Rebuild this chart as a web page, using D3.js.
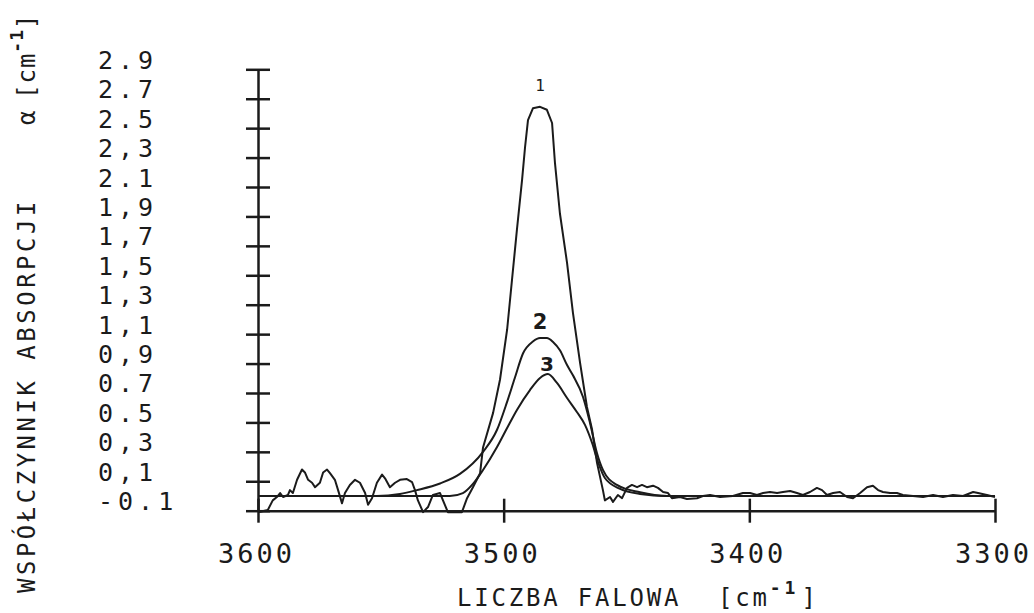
<!DOCTYPE html>
<html>
<head>
<meta charset="utf-8">
<script src="https://cdn.jsdelivr.net/npm/d3@7"></script>
<style>
  body { margin: 0; background: #fff; }
  svg text { font-family: "DejaVu Sans Mono", "Liberation Mono", monospace; fill: #1b1b1b; }
</style>
</head>
<body>
<svg id="chart" width="1034" height="613"></svg>
<script>
// axis ticks as printed on the plot (the plotter mixed "." and ",")
var xTicks = [3600, 3500, 3400, 3300];
var xTickLabels = ['3600', '3500', '3400', '3300'];
var yTicks = [-0.1, 0.1, 0.3, 0.5, 0.7, 0.9, 1.1, 1.3, 1.5, 1.7, 1.9, 2.1, 2.3, 2.5, 2.7, 2.9];
var yTickLabels = ['-0.1', '0,1', '0,3', '0.5', '0.7', '0,9', '1,1', '1,3', '1,5', '1,7', '1,9', '2.1', '2,3', '2.5', '2.7', '2.9'];

var peakLabels = ['1', '2', '3'];

// [wavenumber cm-1, absorption coefficient cm-1]
var curve1 = [[3600,-0.11],[3596,-0.095],[3594,-0.03],[3592.3,-0.007],[3591,0.02],[3589.8,-0.007],[3587.8,0.007],[3587,0.04],[3585.8,0.02],[3584.1,0.11],[3582.1,0.18],[3580.9,0.16],[3579.6,0.11],[3578,0.09],[3576.8,0.06],[3574.8,0.09],[3573.5,0.16],[3571.9,0.18],[3570.7,0.155],[3568.7,0.11],[3567.4,0.04],[3565.8,-0.05],[3564.6,0.02],[3562.6,0.075],[3560.5,0.11],[3558.5,0.09],[3556.4,0.02],[3555.2,-0.06],[3553.6,-0.015],[3551.6,0.09],[3549.5,0.145],[3548.3,0.12],[3546.3,0.06],[3544.2,0.09],[3542.2,0.11],[3539.4,0.115],[3537.3,0.095],[3536.1,0.04],[3534.9,-0.03],[3532.8,-0.11],[3530.8,-0.075],[3528.8,0.007],[3525.9,0.02],[3524.7,-0.03],[3522.7,-0.11],[3517,-0.11],[3514.9,-0.015],[3512.5,0.06],[3509.6,0.155],[3508.4,0.33],[3504.3,0.565],[3501.5,0.79],[3498.6,1.13],[3496.6,1.47],[3494.6,1.81],[3492.5,2.15],[3491.3,2.37],[3490.1,2.555],[3488.1,2.635],[3485.2,2.645],[3482.4,2.625],[3480.3,2.535],[3479.1,2.26],[3477.1,1.92],[3474.2,1.585],[3471.8,1.245],[3468.9,0.905],[3466.1,0.605],[3464,0.45],[3462,0.225],[3459.6,0.04],[3458.8,-0.03],[3456.7,-0.007],[3455.5,-0.04],[3453.5,0.007],[3451.8,-0.015],[3449.8,0.055],[3447.8,0.075],[3445.7,0.06],[3443.7,0.075],[3441.7,0.06],[3439.2,0.07],[3437.2,0.055],[3435.1,0.027],[3433.1,0.02],[3431.5,-0.015],[3428.2,-0.007],[3425.4,-0.02],[3421.3,-0.015],[3418.9,0],[3416,0.007],[3411.9,-0.007],[3406.7,0],[3402.6,0.02],[3399.7,0.02],[3396.9,0.007],[3394.4,0.02],[3391.6,0.027],[3388.7,0.02],[3386.3,0.027],[3383.4,0.034],[3380.6,0.02],[3378.2,0.007],[3375.3,0.027],[3372.5,0.055],[3370.4,0.04],[3368.4,0.007],[3365.9,0.02],[3363.1,0.027],[3360.2,-0.007],[3357.8,-0.015],[3354.9,0.02],[3352.1,0.06],[3349.7,0.07],[3347.6,0.04],[3345.6,0.027],[3342.7,0.02],[3339.9,0.02],[3337.5,0.007],[3333.4,0],[3329.3,-0.007],[3325.2,0.007],[3321.2,-0.007],[3317.1,0.007],[3313,0],[3308.9,0.027],[3306.9,0.02],[3303.3,0.007],[3300,-0.007]];

var curve2 = [[3600,0],[3551.6,0],[3542.2,0.014],[3535.3,0.04],[3525.9,0.085],[3517.8,0.15],[3508.4,0.3],[3502.7,0.45],[3498.6,0.64],[3495.5,0.8],[3492.1,0.97],[3488.1,1.05],[3485.2,1.074],[3482.4,1.074],[3479.9,1.047],[3477.1,0.99],[3474.2,0.89],[3471.8,0.82],[3467.7,0.673],[3464.9,0.5],[3462,0.29],[3459.6,0.177],[3453.9,0.075],[3444.5,0.025],[3433.5,0],[3300,0]];

var curve3 = [[3600,0],[3521.9,0],[3516.6,0.02],[3512.5,0.082],[3508.4,0.177],[3502.7,0.333],[3498.6,0.462],[3494.6,0.585],[3489.3,0.72],[3485.2,0.802],[3482,0.829],[3478.3,0.768],[3474.2,0.666],[3470.2,0.571],[3466.9,0.483],[3464,0.36],[3461.6,0.231],[3458.8,0.122],[3452.6,0.048],[3444.5,0.014],[3433.5,0],[3300,0]];

var ink = '#1b1b1b';
var svg = d3.select('#chart');

var x = d3.scaleLinear().domain([3600, 3300]).range([258, 995]);
var y = d3.scaleLinear().domain([-0.1, 2.9]).range([510.7, 69.3]);

// y axis, ticks crossing the line
var yAxis = d3.axisLeft(y)
  .tickValues(yTicks)
  .tickFormat(function(d, i) { return yTickLabels[i]; })
  .tickSize(12)
  .tickSizeOuter(0);

var gy = svg.append('g')
  .attr('transform', 'translate(' + x(3600) + ',0)')
  .attr('font-family', null).attr('font-size', null)
  .call(yAxis);
gy.select('.domain').attr('stroke', ink).attr('stroke-width', 2.5);
gy.selectAll('.tick line').attr('x1', -12).attr('x2', 12).attr('stroke', ink).attr('stroke-width', 2.5);
gy.selectAll('.tick text')
  .attr('x', 98 - x(3600))
  .attr('dy', -1)
  .attr('text-anchor', 'start')
  .attr('fill', ink)
  .style('font-size', '25px')
  .style('letter-spacing', '5px');

// x axis
var xAxis = d3.axisBottom(x)
  .tickValues(xTicks)
  .tickFormat(function(d, i) { return xTickLabels[i]; })
  .tickSize(12)
  .tickSizeOuter(0);

var gx = svg.append('g')
  .attr('transform', 'translate(0,' + y(-0.1) + ')')
  .attr('font-family', null).attr('font-size', null)
  .call(xAxis);
gx.select('.domain').attr('stroke', ink).attr('stroke-width', 2.5);
gx.selectAll('.tick line').attr('y1', -12).attr('y2', 12).attr('stroke', ink).attr('stroke-width', 2.5);
gx.selectAll('.tick text')
  .attr('y', 52)
  .attr('dy', 0)
  .attr('dx', -2)
  .attr('fill', ink)
  .style('font-size', '27px')
  .style('letter-spacing', '3px');

// spectra
var line = d3.line()
  .x(function(d) { return x(d[0]); })
  .y(function(d) { return y(d[1]); });
var smooth = d3.line()
  .x(function(d) { return x(d[0]); })
  .y(function(d) { return y(d[1]); })
  .curve(d3.curveMonotoneX);

var series = [curve1, curve2, curve3];
svg.append('path').datum(curve1).attr('d', line)
  .attr('fill', 'none').attr('stroke', ink).attr('stroke-width', 2).attr('stroke-linejoin', 'round');
svg.append('path').datum(curve2).attr('d', smooth)
  .attr('fill', 'none').attr('stroke', ink).attr('stroke-width', 2);
svg.append('path').datum(curve3).attr('d', smooth)
  .attr('fill', 'none').attr('stroke', ink).attr('stroke-width', 2);

// curve numbers above the peaks
var labelStyle = [
  {dx: 0, dy: -16, size: 16, weight: 'normal', family: '"DejaVu Sans Mono", monospace'},
  {dx: 0, dy: -9, size: 21, weight: 'bold', family: '"DejaVu Sans", sans-serif'},
  {dx: -1, dy: -3, size: 20, weight: 'bold', family: '"DejaVu Sans", sans-serif'}
];
series.forEach(function(s, i) {
  var peak = s.reduce(function(a, b) { return b[1] > a[1] ? b : a; });
  svg.append('text')
    .attr('x', x(peak[0]) + labelStyle[i].dx)
    .attr('y', y(peak[1]) + labelStyle[i].dy)
    .attr('text-anchor', 'middle')
    .style('font-family', labelStyle[i].family)
    .style('font-size', labelStyle[i].size + 'px')
    .style('font-weight', labelStyle[i].weight)
    .text(peakLabels[i]);
});

// axis titles
var xt = svg.append('text')
  .attr('x', 457).attr('y', 606)
  .style('font-size', '24px')
  .style('letter-spacing', '2.8px');
xt.append('tspan').text('LICZBA FALOWA');
xt.append('tspan').attr('x', 718).text('[cm');
xt.append('tspan').attr('dy', -12).style('font-size', '18px').style('font-weight', 'bold').style('letter-spacing', '4px').text('-1');
xt.append('tspan').attr('dy', 12).attr('dx', 2).text(']');

var yt = svg.append('text')
  .attr('transform', 'translate(35,593) rotate(-90)')
  .style('font-size', '24px')
  .style('letter-spacing', '3.5px');
yt.append('tspan').text('WSPÓŁCZYNNIK ABSORPCJI');
yt.append('tspan').attr('x', 468).text('α');
yt.append('tspan').attr('x', 494).style('letter-spacing', '1px').text('[cm');
yt.append('tspan').attr('dy', -12).style('font-size', '18px').style('font-weight', 'bold').style('letter-spacing', '1px').text('-1');
yt.append('tspan').attr('dy', 12).style('letter-spacing', '1px').text(']');
</script>
</body>
</html>
